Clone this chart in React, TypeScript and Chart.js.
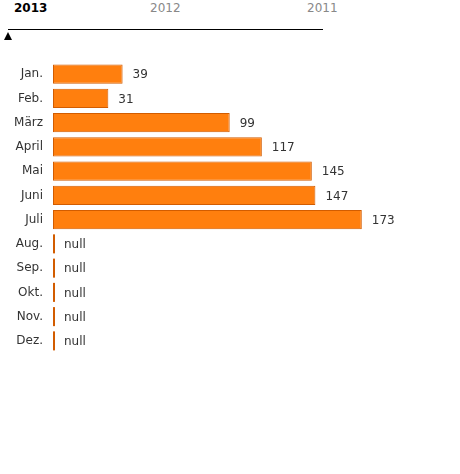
import React, { useEffect, useRef } from 'react';
import { Chart, registerables } from 'chart.js';

Chart.register(...registerables);

const months = ['Jan.', 'Feb.', 'März', 'April', 'Mai', 'Juni', 'Juli', 'Aug.', 'Sep.', 'Okt.', 'Nov.', 'Dez.'];
const values: (number | null)[] = [39, 31, 99, 117, 145, 147, 173, null, null, null, null, null];
const years = ['2013', '2012', '2011'];

const FONT = '"DejaVu Sans", Verdana, sans-serif';
const BAR_FILL = '#ff7f0e';
const BAR_EDGE = '#d25c00';

// value labels, plus the thin marker drawn for months without data
const valueLabels = {
  id: 'valueLabels',
  afterDatasetsDraw(chart: any) {
    const { ctx } = chart;
    const xs = chart.scales.x;
    const ys = chart.scales.y;
    const meta = chart.getDatasetMeta(0);
    const ref = meta.data.find((el: any, i: number) => values[i] != null);
    const barH = ref ? ref.height : 19;
    const zero = xs.getPixelForValue(0);
    ctx.save();
    ctx.font = `12px ${FONT}`;
    ctx.fillStyle = '#333';
    ctx.textBaseline = 'middle';
    ctx.textAlign = 'left';
    values.forEach((v, i) => {
      const cy = ys.getPixelForValue(i);
      if (v == null) {
        ctx.fillStyle = BAR_EDGE;
        ctx.fillRect(zero, cy - barH / 2, 2, barH);
        ctx.fillStyle = '#333';
        ctx.fillText('null', zero + 11, cy + 1);
      } else {
        ctx.fillText(String(v), xs.getPixelForValue(v) + 10, cy + 1);
      }
    });
    ctx.restore();
  },
};

export default function App() {
  const chartRef = useRef<HTMLCanvasElement>(null);
  const chartInstanceRef = useRef<Chart | null>(null);

  useEffect(() => {
    if (!chartRef.current) return;
    const ctx = chartRef.current.getContext('2d');
    if (!ctx) return;

    chartInstanceRef.current = new Chart(ctx, {
      type: 'bar',
      data: {
        labels: months,
        datasets: [
          {
            data: values as any,
            backgroundColor: BAR_FILL,
            borderColor: BAR_EDGE,
            borderWidth: 1,
            borderSkipped: false,
            barPercentage: 0.8,
            categoryPercentage: 0.98,
          },
        ],
      },
      options: {
        indexAxis: 'y',
        animation: false,
        responsive: true,
        maintainAspectRatio: false,
        layout: { padding: { left: 0, right: 50, top: 62, bottom: 121 } },
        plugins: {
          legend: { display: false },
          tooltip: { enabled: false },
        },
        scales: {
          x: { display: false, min: 0, max: 200 },
          y: {
            grid: { display: false, drawTicks: false },
            border: { display: false },
            afterFit: (s: any) => {
              s.width = 53;
            },
            ticks: {
              padding: 10,
              color: '#333',
              font: { size: 12, family: FONT },
            },
          },
        },
      },
      plugins: [valueLabels],
    });

    return () => {
      if (chartInstanceRef.current) {
        chartInstanceRef.current.destroy();
        chartInstanceRef.current = null;
      }
    };
  }, []);

  const yearLeft = [14, 150, 307];

  return (
    <div style={{ position: 'absolute', left: 0, top: 0, width: 460, height: 474, fontFamily: FONT }}>
      {years.map((y, i) => (
        <div
          key={y}
          style={{
            position: 'absolute',
            left: yearLeft[i],
            top: 0,
            fontSize: 12,
            lineHeight: '16px',
            fontWeight: i === 0 ? 'bold' : 'normal',
            color: i === 0 ? '#000' : '#888',
          }}
        >
          {y}
        </div>
      ))}
      <div style={{ position: 'absolute', left: 8, top: 29, width: 315, height: 1, background: '#000' }} />
      <div
        style={{
          position: 'absolute',
          left: 4,
          top: 32,
          width: 0,
          height: 0,
          borderLeft: '4.5px solid transparent',
          borderRight: '4.5px solid transparent',
          borderBottom: '8px solid #000',
        }}
      />
      <div style={{ position: 'absolute', left: 0, top: 0, width: 460, height: 474 }}>
        <canvas ref={chartRef}></canvas>
      </div>
    </div>
  );
}
